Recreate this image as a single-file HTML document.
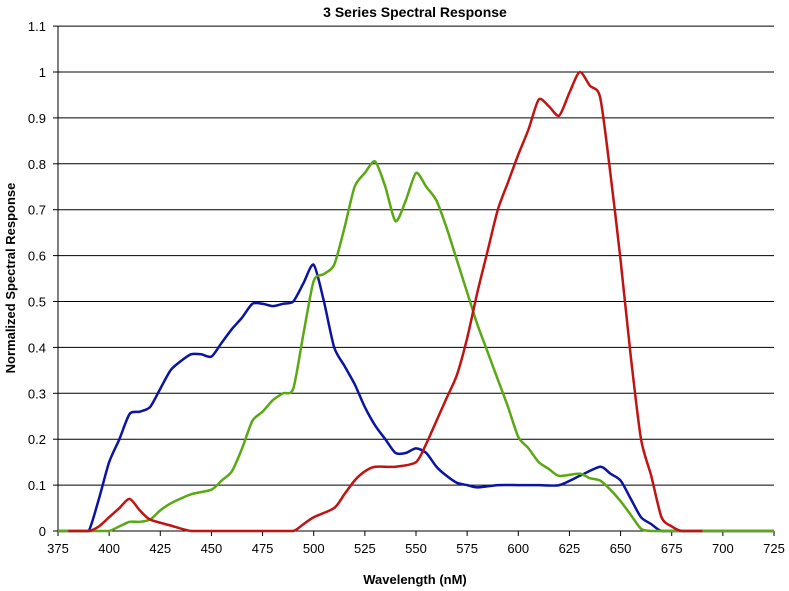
<!DOCTYPE html>
<html><head><meta charset="utf-8"><style>
body{margin:0;background:#fff;}
svg{display:block;font-family:"Liberation Sans",sans-serif;}
</style></head><body>
<svg id="c" width="789" height="591" viewBox="0 0 789 591" xmlns="http://www.w3.org/2000/svg">
<rect width="789" height="591" fill="#fff"/>
<text x="415" y="17" text-anchor="middle" font-size="14" font-weight="bold">3 Series Spectral Response</text>
<text x="415" y="584" text-anchor="middle" font-size="13" font-weight="bold">Wavelength (nM)</text>
<text transform="translate(15,278) rotate(-90)" text-anchor="middle" font-size="13" font-weight="bold">Normalized Spectral Response</text>
<g id="grid"></g>
<g id="series" fill="none" stroke-width="2.5" stroke-linejoin="round"></g>
</svg>
<script>
var X=function(v){return 58+(v-375)*716/350;};
var Y=function(v){return 531-v*459;};
var g=document.getElementById('grid'),s='';
for(var i=0;i<=11;i++){var y=Y(i/10);
 if(i>0)s+='<line x1="58" x2="774" y1="'+y+'" y2="'+y+'" stroke="#000" stroke-width="1"/>';
 s+='<line x1="53" x2="58" y1="'+y+'" y2="'+y+'" stroke="#000"/>';
 var l=(i/10).toFixed(1);if(i==0)l='0';if(i==10)l='1';
 s+='<text x="46" y="'+(y+5)+'" text-anchor="end" font-size="13">'+l+'</text>';}
s+='<line x1="58" x2="58" y1="26" y2="531" stroke="#000"/>';
s+='<line x1="58" x2="774" y1="531" y2="531" stroke="#000"/>';
for(var v=375;v<=725;v+=25){var x=X(v);
 s+='<line x1="'+x+'" x2="'+x+'" y1="531" y2="536" stroke="#000"/>';
 s+='<text x="'+x+'" y="553" text-anchor="middle" font-size="13">'+v+'</text>';}
g.innerHTML=s;
var B=[[375,0],[385,0],[390,0],[395,0.07],[400,0.15],[405,0.2],[410,0.255],[415,0.26],[420,0.27],[425,0.31],[430,0.35],[435,0.37],[440,0.385],[445,0.385],[450,0.38],[455,0.41],[460,0.44],[465,0.465],[470,0.495],[475,0.495],[480,0.49],[485,0.495],[490,0.5],[495,0.54],[500,0.58],[505,0.5],[510,0.4],[515,0.36],[520,0.32],[525,0.27],[530,0.23],[535,0.2],[540,0.17],[545,0.17],[550,0.18],[555,0.17],[560,0.14],[565,0.12],[570,0.105],[575,0.1],[580,0.095],[590,0.1],[600,0.1],[610,0.1],[620,0.1],[630,0.12],[640,0.14],[645,0.125],[650,0.11],[655,0.07],[660,0.03],[665,0.015],[670,0],[680,0],[725,0]];
var G=[[375,0],[395,0],[400,0],[405,0.01],[410,0.02],[415,0.02],[420,0.025],[425,0.045],[430,0.06],[440,0.08],[450,0.09],[455,0.11],[460,0.13],[465,0.18],[470,0.24],[475,0.26],[480,0.285],[485,0.3],[490,0.31],[495,0.43],[500,0.545],[505,0.56],[510,0.58],[515,0.66],[520,0.75],[525,0.78],[530,0.805],[535,0.75],[540,0.675],[545,0.72],[550,0.78],[555,0.75],[560,0.72],[565,0.66],[570,0.59],[575,0.52],[580,0.45],[585,0.39],[590,0.33],[595,0.27],[600,0.205],[605,0.18],[610,0.15],[615,0.135],[620,0.12],[630,0.125],[635,0.115],[640,0.11],[645,0.09],[650,0.065],[655,0.035],[660,0.005],[665,0],[675,0],[725,0]];
var R=[[380,0],[390,0],[395,0.01],[400,0.03],[405,0.05],[410,0.07],[415,0.045],[420,0.025],[430,0.012],[440,0],[450,0],[480,0],[490,0],[495,0.015],[500,0.03],[510,0.05],[515,0.08],[520,0.11],[525,0.13],[530,0.14],[540,0.14],[550,0.15],[555,0.19],[560,0.24],[565,0.29],[570,0.34],[575,0.42],[580,0.52],[585,0.61],[590,0.7],[595,0.76],[600,0.82],[605,0.875],[610,0.94],[615,0.925],[620,0.905],[625,0.955],[630,1.0],[635,0.97],[640,0.945],[645,0.78],[650,0.59],[655,0.38],[660,0.2],[665,0.12],[670,0.03],[675,0.01],[680,0],[690,0]];
function path(d){var p=d.map(function(a){return [X(a[0]),Y(a[1])];});
 var str='M'+p[0][0]+','+p[0][1];
 for(var i=0;i<p.length-1;i++){var p0=p[i-1]||p[i],p1=p[i],p2=p[i+1],p3=p[i+2]||p2;
  var k=8;
  var c1=[p1[0]+(p2[0]-p0[0])/k,p1[1]+(p2[1]-p0[1])/k],c2=[p2[0]-(p3[0]-p1[0])/k,p2[1]-(p3[1]-p1[1])/k];
  if(c1[1]>531)c1[1]=531;if(c2[1]>531)c2[1]=531;
  str+=' C'+c1+' '+c2+' '+p2;}
 return str;}
document.getElementById('series').innerHTML=
 '<path d="'+path(B)+'" stroke="#0a14a0"/>'+
 '<path d="'+path(G)+'" stroke="#5aa814"/>'+
 '<path d="'+path(R)+'" stroke="#c01414"/>';
</script>
</body></html>
